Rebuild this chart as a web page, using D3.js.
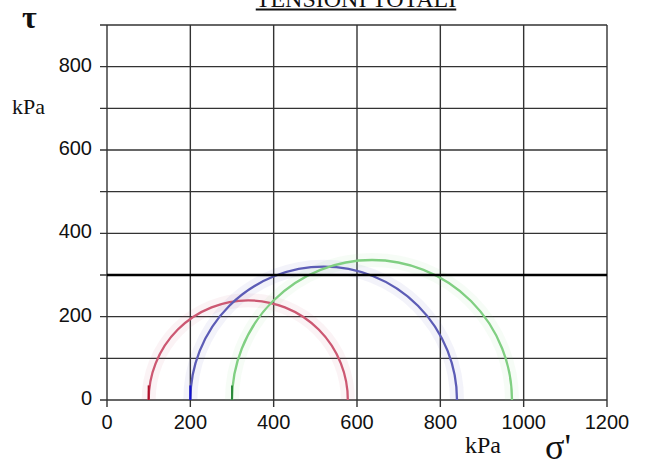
<!DOCTYPE html>
<html>
<head>
<meta charset="utf-8">
<script src="https://cdn.jsdelivr.net/npm/d3@7"></script>
<style>
  body { margin: 0; background: #fff; }
  #chart { width: 646px; height: 467px; }
  .tick-label { font-family: "Liberation Sans", Arial, sans-serif; font-size: 20px; fill: #111; }
  .serif { font-family: "Liberation Serif", "Times New Roman", serif; fill: #111; }
</style>
</head>
<body>
<div id="chart"></div>
<script>
// Mohr circles, total stresses (kPa)
const circleNames = ["A", "B", "C"];
const sigma3 = [100, 200, 300];
const sigma1 = [578, 840, 972];
const circleColors = ["#cc5872", "#5c5cb6", "#80cf82"];
const stubColors = ["#b0102a", "#1010d0", "#2a8a3a"];
const envelopeTau = 300;

const xTicks = [0, 200, 400, 600, 800, 1000, 1200];
const yLabelTicks = [0, 200, 400, 600, 800];
const yGridTicks = [0, 100, 200, 300, 400, 500, 600, 700, 800, 900];

class MohrChart {
  constructor(parentElement) {
    this.parentElement = parentElement;
  }

  initVis() {
    let vis = this;

    vis.margin = { top: 25, right: 39, bottom: 67, left: 107 };
    vis.width = 646 - vis.margin.left - vis.margin.right;
    vis.height = 467 - vis.margin.top - vis.margin.bottom;

    vis.root = d3
      .select("#" + vis.parentElement)
      .append("svg")
      .attr("width", 646)
      .attr("height", 467);

    vis.svg = vis.root
      .append("g")
      .attr("transform", "translate(" + vis.margin.left + "," + vis.margin.top + ")");

    vis.x = d3.scaleLinear().domain([0, 1200]).range([0, vis.width]);
    vis.y = d3.scaleLinear().domain([0, 900]).range([vis.height, 0]);

    // grid
    vis.svg
      .selectAll(".hgrid")
      .data(yGridTicks)
      .enter()
      .append("line")
      .attr("class", "hgrid")
      .attr("x1", -7)
      .attr("x2", vis.width)
      .attr("y1", (d) => vis.y(d))
      .attr("y2", (d) => vis.y(d))
      .attr("stroke", "#333")
      .attr("stroke-width", 1.4);

    vis.svg
      .selectAll(".vgrid")
      .data(xTicks)
      .enter()
      .append("line")
      .attr("class", "vgrid")
      .attr("x1", (d) => vis.x(d))
      .attr("x2", (d) => vis.x(d))
      .attr("y1", 0)
      .attr("y2", vis.height + 7)
      .attr("stroke", "#333")
      .attr("stroke-width", 1.4);

    // tick labels
    vis.svg
      .selectAll(".ylab")
      .data(yLabelTicks)
      .enter()
      .append("text")
      .attr("class", "tick-label")
      .attr("x", -15)
      .attr("y", (d) => vis.y(d) + 5)
      .attr("text-anchor", "end")
      .text((d) => d);

    vis.svg
      .selectAll(".xlab")
      .data(xTicks)
      .enter()
      .append("text")
      .attr("class", "tick-label")
      .attr("x", (d) => vis.x(d))
      .attr("y", vis.height + 29)
      .attr("text-anchor", "middle")
      .text((d) => d);

    vis.updateVis();
    vis.drawLabels();
  }

  updateVis() {
    let vis = this;

    let data = circleNames.map(function (name, i) {
      return {
        name: name,
        s3: sigma3[i],
        s1: sigma1[i],
        color: circleColors[i],
        stub: stubColors[i],
      };
    });

    let arcPath = function (d) {
      let c = (d.s1 + d.s3) / 2;
      let r = (d.s1 - d.s3) / 2;
      let p = d3.path();
      p.arc(vis.x(c), vis.y(0), vis.x(r) - vis.x(0), Math.PI, 2 * Math.PI);
      return p.toString();
    };

    // soft halo behind each circle
    vis.svg
      .selectAll(".halo")
      .data(data)
      .enter()
      .append("path")
      .attr("class", "halo")
      .attr("d", arcPath)
      .attr("fill", "none")
      .attr("stroke", (d) => d.color)
      .attr("stroke-opacity", 0.07)
      .attr("stroke-width", 14);

    vis.svg
      .selectAll(".mohr")
      .data(data)
      .enter()
      .append("path")
      .attr("class", "mohr")
      .attr("d", arcPath)
      .attr("fill", "none")
      .attr("stroke", (d) => d.color)
      .attr("stroke-width", 2.3);

    // darker start of each circle
    vis.svg
      .selectAll(".stub")
      .data(data)
      .enter()
      .append("line")
      .attr("class", "stub")
      .attr("x1", (d) => vis.x(d.s3))
      .attr("x2", (d) => vis.x(d.s3))
      .attr("y1", vis.y(0))
      .attr("y2", vis.y(35))
      .attr("stroke", (d) => d.stub)
      .attr("stroke-width", 2);

    // strength envelope
    vis.svg
      .append("line")
      .attr("x1", vis.x(0))
      .attr("x2", vis.x(1200))
      .attr("y1", vis.y(envelopeTau))
      .attr("y2", vis.y(envelopeTau))
      .attr("stroke", "#000")
      .attr("stroke-width", 2.6);
  }

  drawLabels() {
    let vis = this;

    let title = vis.root
      .append("text")
      .attr("class", "serif")
      .attr("x", 356)
      .attr("y", 7)
      .attr("text-anchor", "middle")
      .attr("font-size", "24px")
      .text("TENSIONI TOTALI");

    let w = title.node().getComputedTextLength();
    vis.root
      .append("line")
      .attr("x1", 356 - w / 2)
      .attr("x2", 356 + w / 2)
      .attr("y1", 9.5)
      .attr("y2", 9.5)
      .attr("stroke", "#111")
      .attr("stroke-width", 2);

    vis.root
      .append("text")
      .attr("class", "serif")
      .attr("x", 22)
      .attr("y", 28)
      .attr("font-size", "32px")
      .attr("font-weight", "bold")
      .text("τ");

    vis.root
      .append("text")
      .attr("class", "serif")
      .attr("x", 12)
      .attr("y", 114)
      .attr("font-size", "22px")
      .text("kPa");

    vis.root
      .append("text")
      .attr("class", "serif")
      .attr("x", 465)
      .attr("y", 453)
      .attr("font-size", "24px")
      .text("kPa");

    vis.root
      .append("text")
      .attr("class", "serif")
      .attr("x", 545)
      .attr("y", 459)
      .attr("font-size", "36px")
      .text("σ'");
  }
}

let chart = new MohrChart("chart");
chart.initVis();
</script>
</body>
</html>
